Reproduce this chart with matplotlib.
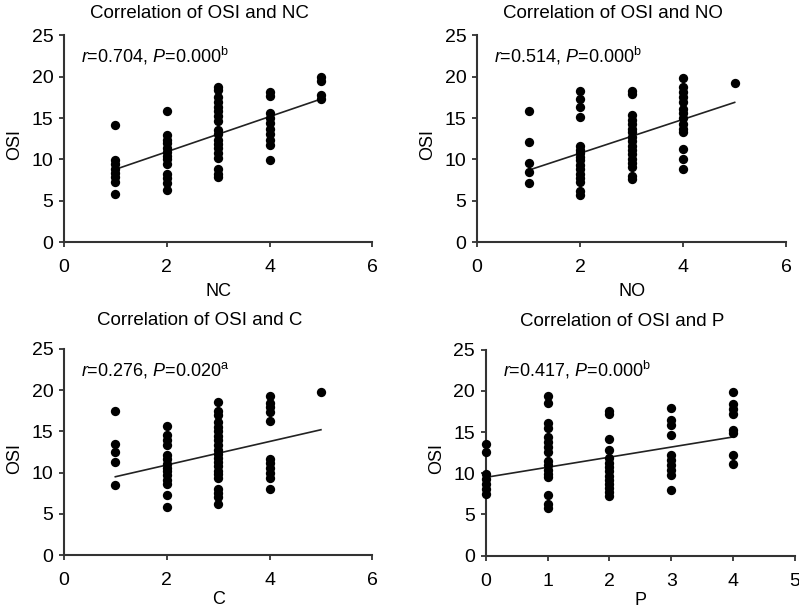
import numpy as np
import matplotlib
matplotlib.use("Agg")
import matplotlib.pyplot as plt

plt.rcParams['font.family'] = ['Liberation Sans', 'DejaVu Sans']
plt.rcParams['mathtext.fontset'] = 'custom'
plt.rcParams['mathtext.rm'] = 'Liberation Sans'
plt.rcParams['mathtext.it'] = 'Liberation Sans:italic'

# %% Data
# NC panel: OSI values at each NC score
nc_x = [1] * 8 + [2] * 13 + [3] * 18 + [4] * 10 + [5] * 4
nc_y = [14.2, 9.9, 9.4, 8.9, 8.4, 7.9, 7.3, 5.8,
        15.8, 12.9, 12.4, 12.0, 11.4, 10.9, 10.4, 10.0, 9.5, 8.2, 7.7, 7.1, 6.3,
        18.8, 18.4, 17.6, 16.9, 16.3, 15.9, 15.3, 14.7, 13.6, 13.1, 12.4, 11.9,
        11.4, 10.8, 10.2, 8.8, 8.3, 7.9,
        18.2, 17.7, 15.6, 15.0, 14.4, 13.7, 13.1, 12.4, 11.7, 9.9,
        20.0, 19.5, 17.8, 17.3]
nc_fit = [8.8, 17.3]      # fitted line at x = 1 and x = 5

# NO panel
no_x = [1] * 5 + [2] * 16 + [3] * 17 + [4] * 14 + [5] * 1
no_y = [15.8, 12.1, 9.6, 8.5, 7.2,
        18.3, 17.3, 16.3, 15.1, 11.6, 11.2, 10.8, 10.3, 9.9, 9.3, 8.9, 8.3,
        7.8, 7.3, 6.2, 5.7,
        18.3, 17.9, 15.4, 14.8, 14.3, 13.7, 13.3, 12.7, 12.2, 11.6, 11.1,
        10.6, 10.1, 9.6, 9.1, 8.0, 7.6,
        19.9, 18.7, 18.2, 17.5, 17.0, 16.1, 15.6, 15.0, 14.3, 13.7, 13.3,
        11.3, 10.1, 8.9,
        19.3]
no_fit = [8.7, 16.9]

# C panel
c_x = [1] * 5 + [2] * 14 + [3] * 21 + [4] * 11 + [5] * 1
c_y = [17.5, 13.5, 12.5, 11.3, 8.5,
       15.7, 14.6, 14.0, 13.3, 12.1, 11.6, 11.1, 10.6, 10.2, 9.7, 9.1, 8.6,
       7.3, 5.8,
       18.6, 17.5, 17.0, 16.1, 15.5, 15.0, 14.5, 13.9, 13.4, 12.8, 12.3, 11.8,
       11.3, 10.8, 10.2, 9.8, 9.3, 8.0, 7.5, 7.0, 6.2,
       19.3, 18.4, 17.9, 17.3, 16.3, 11.7, 11.2, 10.6, 10.0, 9.3, 8.0,
       19.8]
c_fit = [9.5, 15.2]

# P panel
p_x = [0] * 7 + [1] * 16 + [2] * 14 + [3] * 10 + [4] * 8
p_y = [13.5, 12.6, 9.9, 9.3, 8.7, 8.1, 7.5,
       19.4, 18.5, 16.1, 15.5, 14.4, 13.8, 13.2, 12.6, 11.5, 11.0, 10.4, 9.9,
       9.5, 7.4, 6.3, 5.8,
       17.6, 17.2, 14.1, 12.8, 11.8, 11.2, 10.8, 10.3, 9.7, 9.2, 8.7, 8.2,
       7.7, 7.2,
       17.9, 16.4, 15.8, 14.6, 12.2, 11.6, 11.0, 10.4, 9.8, 8.0,
       19.8, 18.4, 17.8, 17.2, 15.3, 14.9, 12.2, 11.1]
p_fit = [9.5, 14.4]

panels = [
    dict(x=nc_x, y=nc_y, fit_x=[1, 5], fit=nc_fit, xlabel='NC',
         title='Correlation of OSI and NC', r='0.704', p='0.000', sup='b',
         xlim=6, xticks=[0, 2, 4, 6], tpad=12.5, lpad=5,
         pos=[0.080, 0.603, 0.386, 0.339]),
    dict(x=no_x, y=no_y, fit_x=[1, 5], fit=no_fit, xlabel='NO',
         title='Correlation of OSI and NO', r='0.514', p='0.000', sup='b',
         xlim=6, xticks=[0, 2, 4, 6], tpad=12.5, lpad=5,
         pos=[0.597, 0.603, 0.387, 0.339]),
    dict(x=c_x, y=c_y, fit_x=[1, 5], fit=c_fit, xlabel='C',
         title='Correlation of OSI and C', r='0.276', p='0.020', sup='a',
         xlim=6, xticks=[0, 2, 4, 6], tpad=17.5, lpad=1.5,
         pos=[0.080, 0.090, 0.386, 0.338]),
    dict(x=p_x, y=p_y, fit_x=[0, 4], fit=p_fit, xlabel='P',
         title='Correlation of OSI and P', r='0.417', p='0.000', sup='b',
         xlim=5, xticks=[0, 1, 2, 3, 4, 5], tpad=17, lpad=1.5,
         pos=[0.608, 0.089, 0.387, 0.338]),
]

# %% Plotting
fig = plt.figure(figsize=(7.99, 6.10), dpi=100)

for pnl in panels:
    ax = fig.add_axes(pnl['pos'])
    ax.scatter(pnl['x'], pnl['y'], s=45, color='black', zorder=3,
               linewidths=0, clip_on=False)
    ax.plot(pnl['fit_x'], pnl['fit'], color='#222222', lw=1.2, zorder=2)

    ax.set_xlim(0, pnl['xlim'])
    ax.set_ylim(0, 25)
    ax.set_xticks(pnl['xticks'])
    ax.set_yticks([0, 5, 10, 15, 20, 25])
    for side in ['top', 'right']:
        ax.spines[side].set_visible(False)
    for side in ['left', 'bottom']:
        ax.spines[side].set_linewidth(1.5)
        ax.spines[side].set_color('#333333')
    ax.tick_params(direction='out', length=3.6, width=1.3, color='#333333',
                   labelsize=14)
    ax.tick_params(axis='x', pad=8.5)
    ax.tick_params(axis='y', pad=4)

    ax.set_xlabel(pnl['xlabel'], fontsize=13, labelpad=pnl['lpad'])
    ax.set_ylabel('OSI', fontsize=13, labelpad=6, y=0.47)
    ax.set_title(pnl['title'], fontsize=13.5, x=0.44, pad=pnl['tpad'])

    label = (r'$\it{r}$=' + pnl['r'] + r', $\it{P}$=' + pnl['p']
             + r'$^{\rm ' + pnl['sup'] + '}$')
    ax.text(0.055, 0.90, label, transform=ax.transAxes, fontsize=13,
            va='center', ha='left')

fig.savefig('out.png', dpi=100)
